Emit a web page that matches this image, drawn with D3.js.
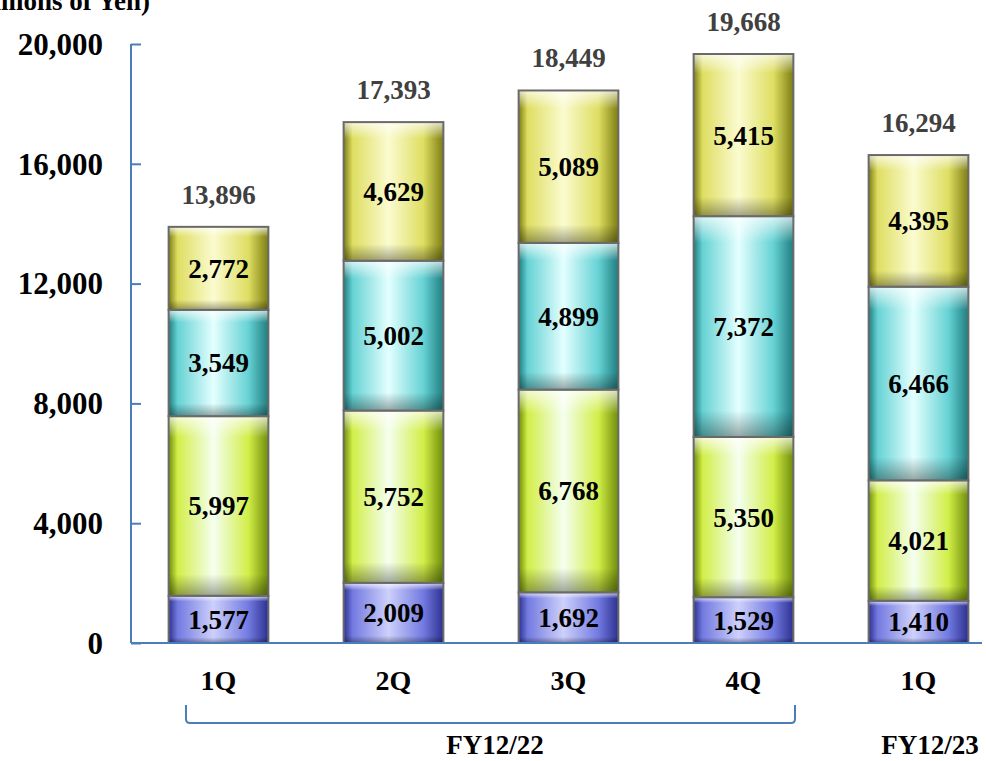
<!DOCTYPE html>
<html>
<head>
<meta charset="utf-8">
<script src="https://cdn.jsdelivr.net/npm/d3@7"></script>
<style>
  body { margin: 0; background: #fff; }
  text { font-family: "Liberation Serif", "Times New Roman", serif; font-weight: bold; }
</style>
</head>
<body>
<div id="chart"></div>
<script>
// data
let quarters = ["1Q", "2Q", "3Q", "4Q", "1Q "];
let segA = [1577, 2009, 1692, 1529, 1410];   // blue (bottom)
let segB = [5997, 5752, 6768, 5350, 4021];   // lime
let segC = [3549, 5002, 4899, 7372, 6466];   // teal
let segD = [2772, 4629, 5089, 5415, 4395];   // yellow (top)
let totals = [13896, 17393, 18449, 19668, 16294];
let yTicks = [0, 4000, 8000, 12000, 16000, 20000];

var svgwidth = 986, svgheight = 761;
var svg = d3.select("#chart").append("svg")
  .attr("width", svgwidth)
  .attr("height", svgheight);

var margin = {top: 44, left: 131};
var baseY = 643;

var x = d3.scaleBand().domain(quarters).range([131, 1006]).paddingInner(0.43).paddingOuter(0.215);
var y = d3.scaleLinear().domain([0, 20000]).range([baseY, 44]);

// colours: dark edge, main, light centre
var palette = [
  {id: "blue", dark: "#2c3190", main: "#737ae0", light: "#cdd0fb"},
  {id: "lime", dark: "#6f8d08", main: "#d2ee48", light: "#f4fff0"},
  {id: "teal", dark: "#1f7d80", main: "#66d2d4", light: "#e4ffff"},
  {id: "yell", dark: "#7d7d12", main: "#dede62", light: "#fbfbd0"}
];

var defs = svg.append("defs");
palette.forEach(function(p){
  var g = defs.append("linearGradient").attr("id", "h_" + p.id).attr("x1", 0).attr("x2", 1).attr("y1", 0).attr("y2", 0);
  g.append("stop").attr("offset", "0%").attr("stop-color", p.dark);
  g.append("stop").attr("offset", "9%").attr("stop-color", p.main);
  g.append("stop").attr("offset", "45%").attr("stop-color", p.light);
  g.append("stop").attr("offset", "80%").attr("stop-color", p.main);
  g.append("stop").attr("offset", "100%").attr("stop-color", p.dark);
});
var v = defs.append("linearGradient").attr("id", "vshade").attr("x1", 0).attr("x2", 0).attr("y1", 0).attr("y2", 1);
v.append("stop").attr("offset", "0%").attr("stop-color", "#fff").attr("stop-opacity", 0.75);
v.append("stop").attr("offset", "12%").attr("stop-color", "#fff").attr("stop-opacity", 0.0);
v.append("stop").attr("offset", "88%").attr("stop-color", "#000").attr("stop-opacity", 0.0);
v.append("stop").attr("offset", "100%").attr("stop-color", "#000").attr("stop-opacity", 0.35);

// stack the segments
var rows = quarters.map(function(q, i){
  return {q: q, a: segA[i], b: segB[i], c: segC[i], d: segD[i], total: totals[i]};
});
var stack = d3.stack().keys(["a", "b", "c", "d"]);
var series = stack(rows);

var chartgroup = svg.append("g");

series.forEach(function(s, si){
  var p = palette[si];
  var grp = chartgroup.append("g");
  grp.selectAll("rect.base")
    .data(s)
    .enter()
    .append("rect")
    .attr("x", d => x(d.data.q))
    .attr("y", d => y(d[1]))
    .attr("width", x.bandwidth())
    .attr("height", d => y(d[0]) - y(d[1]))
    .attr("fill", "url(#h_" + p.id + ")");
  grp.selectAll("rect.shade")
    .data(s)
    .enter()
    .append("rect")
    .attr("x", d => x(d.data.q))
    .attr("y", d => y(d[1]))
    .attr("width", x.bandwidth())
    .attr("height", d => y(d[0]) - y(d[1]))
    .attr("fill", "url(#vshade)")
    .attr("stroke", "#6a6a6a")
    .attr("stroke-width", 2);
  grp.selectAll("text")
    .data(s)
    .enter()
    .append("text")
    .attr("x", d => x(d.data.q) + x.bandwidth() / 2)
    .attr("y", d => (y(d[0]) + y(d[1])) / 2)
    .attr("dy", "0.35em")
    .attr("text-anchor", "middle")
    .attr("font-size", "27px")
    .attr("fill", "#000")
    .text(d => d3.format(",")(d.data[["a","b","c","d"][si]]));
});

// totals above the bars
chartgroup.selectAll("text.total")
  .data(rows)
  .enter()
  .append("text")
  .attr("class", "total")
  .attr("x", d => x(d.q) + x.bandwidth() / 2)
  .attr("y", d => y(d.total) - 23)
  .attr("text-anchor", "middle")
  .attr("font-size", "27px")
  .attr("fill", "#404040")
  .text(d => d3.format(",")(d.total));

// y axis with ticks pointing inwards
var axisColor = "#4a7ebb";
var yaxis = d3.axisRight(y).tickValues(yTicks).tickSize(10).tickFormat("");
var yg = svg.append("g").attr("transform", `translate(${margin.left},0)`).call(yaxis);
yg.select(".domain").attr("stroke", axisColor).attr("stroke-width", 2).attr("d", `M0,${y(20000)}V${baseY}`);
yg.selectAll(".tick line").attr("stroke", axisColor).attr("stroke-width", 2);

svg.selectAll("text.ylab")
  .data(yTicks)
  .enter()
  .append("text")
  .attr("class", "ylab")
  .attr("x", 103)
  .attr("y", d => y(d))
  .attr("dy", "0.35em")
  .attr("text-anchor", "end")
  .attr("font-size", "31px")
  .attr("fill", "#000")
  .text(d => d3.format(",")(d));

// baseline
svg.append("line")
  .attr("x1", margin.left).attr("x2", 982)
  .attr("y1", baseY).attr("y2", baseY)
  .attr("stroke", axisColor).attr("stroke-width", 2);

// category labels
svg.selectAll("text.cat")
  .data(quarters)
  .enter()
  .append("text")
  .attr("class", "cat")
  .attr("x", d => x(d) + x.bandwidth() / 2)
  .attr("y", 690)
  .attr("text-anchor", "middle")
  .attr("font-size", "28px")
  .attr("fill", "#000")
  .text(d => d.trim());

// brace under FY12/22
var bx1 = 186, bx2 = 795;
svg.append("path")
  .attr("d", `M${bx1},705 V719 Q${bx1},723 ${bx1 + 4},723 H${bx2 - 4} Q${bx2},723 ${bx2},719 V705`)
  .attr("fill", "none")
  .attr("stroke", axisColor)
  .attr("stroke-width", 2);

svg.append("text")
  .attr("x", 495).attr("y", 754)
  .attr("text-anchor", "middle")
  .attr("font-size", "27px")
  .attr("fill", "#000")
  .text("FY12/22");

svg.append("text")
  .attr("x", 930).attr("y", 754)
  .attr("text-anchor", "middle")
  .attr("font-size", "27px")
  .attr("fill", "#000")
  .text("FY12/23");

// unit label, cut off at the top edge as in the original
svg.append("text")
  .attr("x", 150).attr("y", 10)
  .attr("text-anchor", "end")
  .attr("font-size", "27px")
  .attr("fill", "#000")
  .text("(Millions of Yen)");
</script>
</body>
</html>
